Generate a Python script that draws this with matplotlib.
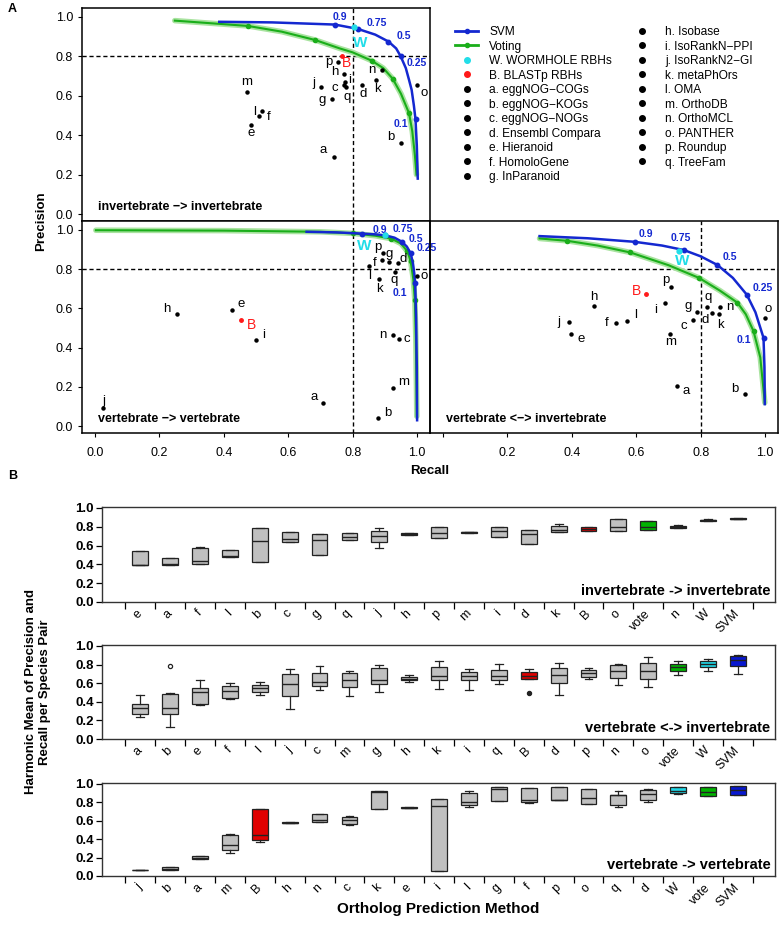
import matplotlib
matplotlib.use("Agg")
import matplotlib.pyplot as plt
from matplotlib.lines import Line2D
import numpy as np

plt.rcParams['font.family'] = ['Liberation Sans', 'DejaVu Sans']
NARROW = ['Liberation Sans Narrow', 'Liberation Sans', 'DejaVu Sans']

# ---------------- panel A data (recall, precision) ----------------
thr_labels = ['0.9', '0.75', '0.5', '0.25', '0.1']
letters = list('abcdefghijklmnopq')

# invertebrate -> invertebrate
ii_svm_r = [0.386, 0.55, 0.745, 0.816, 0.87, 0.911, 0.935, 0.949, 0.965, 0.975, 0.983, 0.99, 0.995, 0.999, 1.002]
ii_svm_p = [0.975, 0.972, 0.961, 0.939, 0.91, 0.875, 0.84, 0.80, 0.74, 0.68, 0.63, 0.55, 0.48, 0.35, 0.18]
ii_svm_thr_r = [0.745, 0.816, 0.911, 0.949, 0.995]
ii_svm_thr_p = [0.961, 0.939, 0.875, 0.80, 0.48]
ii_vote_r = [0.248, 0.475, 0.58, 0.683, 0.76, 0.80, 0.859, 0.895, 0.924, 0.95, 0.975, 0.985, 0.993, 0.998]
ii_vote_p = [0.981, 0.954, 0.925, 0.883, 0.84, 0.82, 0.778, 0.74, 0.687, 0.61, 0.511, 0.42, 0.30, 0.20]
ii_vote_thr_r = [0.475, 0.683, 0.859, 0.924, 0.975]
ii_vote_thr_p = [0.954, 0.883, 0.778, 0.687, 0.511]
ii_w = (0.805, 0.948)
ii_b = (0.766, 0.80)
ii_m_r = [0.742, 0.949, 0.772, 0.828, 0.484, 0.52, 0.735, 0.774, 0.775, 0.701, 0.873, 0.51, 0.473, 0.89, 1.0, 0.753, 0.78]
ii_m_p = [0.288, 0.362, 0.655, 0.655, 0.452, 0.523, 0.582, 0.71, 0.672, 0.643, 0.68, 0.497, 0.621, 0.731, 0.655, 0.773, 0.645]

# vertebrate -> vertebrate
vv_svm_r = [0.657, 0.75, 0.828, 0.87, 0.90, 0.93, 0.952, 0.968, 0.98, 0.987, 0.991, 0.994, 0.997, 0.999, 1.0]
vv_svm_p = [0.99, 0.987, 0.981, 0.977, 0.972, 0.96, 0.94, 0.915, 0.88, 0.83, 0.78, 0.728, 0.55, 0.30, 0.03]
vv_svm_thr_r = [0.828, 0.90, 0.952, 0.98, 0.994]
vv_svm_thr_p = [0.981, 0.972, 0.94, 0.88, 0.728]
vv_vote_r = [0.003, 0.4, 0.7, 0.80, 0.87, 0.92, 0.95, 0.97, 0.98, 0.988, 0.993, 0.996, 0.998, 0.999]
vv_vote_p = [0.998, 0.996, 0.99, 0.982, 0.97, 0.955, 0.93, 0.89, 0.84, 0.75, 0.64, 0.45, 0.20, 0.05]
vv_vote_thr_r = [0.80, 0.92, 0.97, 0.98, 0.993]
vv_vote_thr_p = [0.982, 0.955, 0.89, 0.84, 0.64]
vv_w = (0.90, 0.973)
vv_b = (0.453, 0.542)
vv_m_r = [0.707, 0.878, 0.944, 0.94, 0.426, 0.89, 0.913, 0.254, 0.5, 0.025, 0.883, 0.852, 0.926, 0.926, 1.0, 0.893, 0.932]
vv_m_p = [0.118, 0.039, 0.445, 0.83, 0.594, 0.846, 0.837, 0.572, 0.437, 0.09, 0.75, 0.817, 0.194, 0.465, 0.766, 0.882, 0.783]

# vertebrate <-> invertebrate
vi_svm_r = [0.30, 0.45, 0.595, 0.68, 0.748, 0.80, 0.852, 0.90, 0.943, 0.97, 0.995, 0.998, 0.999]
vi_svm_p = [0.968, 0.957, 0.939, 0.92, 0.897, 0.865, 0.821, 0.755, 0.67, 0.58, 0.45, 0.30, 0.112]
vi_svm_thr_r = [0.595, 0.748, 0.852, 0.943, 0.995]
vi_svm_thr_p = [0.939, 0.897, 0.821, 0.67, 0.45]
vi_vote_r = [0.30, 0.386, 0.48, 0.581, 0.70, 0.795, 0.86, 0.914, 0.94, 0.964, 0.985, 0.999]
vi_vote_p = [0.956, 0.944, 0.92, 0.885, 0.82, 0.755, 0.69, 0.629, 0.57, 0.484, 0.35, 0.12]
vi_vote_thr_r = [0.386, 0.581, 0.795, 0.914, 0.964]
vi_vote_thr_p = [0.944, 0.885, 0.755, 0.629, 0.484]
vi_w = (0.733, 0.893)
vi_b = (0.63, 0.673)
vi_m_r = [0.728, 0.937, 0.777, 0.836, 0.399, 0.538, 0.788, 0.469, 0.689, 0.391, 0.857, 0.572, 0.705, 0.86, 0.999, 0.709, 0.819]
vi_m_p = [0.205, 0.162, 0.542, 0.575, 0.467, 0.524, 0.58, 0.614, 0.628, 0.53, 0.569, 0.535, 0.47, 0.606, 0.552, 0.711, 0.606]

legend_names = ['SVM', 'Voting', 'W. WORMHOLE RBHs', 'B. BLASTp RBHs',
                'a. eggNOG\u2212COGs', 'b. eggNOG\u2212KOGs', 'c. eggNOG\u2212NOGs',
                'd. Ensembl Compara', 'e. Hieranoid', 'f. HomoloGene', 'g. InParanoid',
                'h. Isobase', 'i. IsoRankN\u2212PPI', 'j. IsoRankN2\u2212GI', 'k. metaPhOrs',
                'l. OMA', 'm. OrthoDB', 'n. OrthoMCL', 'o. PANTHER', 'p. Roundup', 'q. TreeFam']

# ---------------- panel B data (box statistics) ----------------
ii_names = ['e', 'a', 'f', 'l', 'b', 'c', 'g', 'q', 'j', 'h', 'p', 'm', 'i', 'd', 'k', 'B', 'o', 'vote', 'n', 'W', 'SVM']
ii_lo  = [.39, .39, .40, .48, .42, .64, .50, .66, .57, .71, .68, .735, .69, .62, .74, .76, .76, .77, .79, .86, .88]
ii_q1  = [.39, .39, .40, .48, .42, .64, .50, .66, .64, .71, .68, .735, .69, .62, .74, .76, .76, .77, .79, .86, .88]
ii_med = [.395, .40, .44, .49, .65, .67, .66, .69, .70, .72, .73, .74, .75, .72, .77, .78, .80, .80, .80, .87, .885]
ii_q3  = [.54, .47, .57, .55, .79, .74, .72, .73, .76, .73, .80, .745, .80, .77, .81, .80, .88, .86, .81, .875, .89]
ii_hi  = [.54, .47, .58, .55, .79, .74, .72, .73, .79, .73, .80, .745, .80, .77, .83, .80, .88, .86, .82, .88, .89]
ii_fliers = {}

vi_names = ['a', 'b', 'e', 'f', 'l', 'j', 'c', 'm', 'g', 'h', 'k', 'i', 'q', 'B', 'd', 'p', 'n', 'o', 'vote', 'W', 'SVM']
vi_lo  = [.24, .13, .36, .43, .47, .32, .53, .46, .51, .61, .54, .53, .59, .64, .47, .64, .58, .56, .69, .73, .70]
vi_q1  = [.27, .27, .38, .44, .50, .46, .57, .56, .59, .63, .63, .63, .63, .64, .60, .67, .66, .65, .73, .77, .78]
vi_med = [.33, .33, .51, .52, .55, .59, .61, .63, .63, .65, .68, .68, .68, .68, .69, .71, .73, .73, .77, .81, .85]
vi_q3  = [.38, .48, .55, .57, .58, .70, .71, .71, .76, .67, .77, .72, .74, .72, .76, .74, .79, .82, .81, .84, .89]
vi_hi  = [.47, .49, .63, .60, .61, .75, .78, .73, .80, .69, .84, .75, .81, .75, .82, .76, .81, .88, .84, .86, .90]
vi_fliers = {'b': [0.78], 'B': [0.49]}

vv_names = ['j', 'b', 'a', 'm', 'B', 'h', 'n', 'c', 'k', 'e', 'i', 'l', 'g', 'f', 'p', 'o', 'q', 'd', 'W', 'vote', 'SVM']
vv_lo  = [.06, .06, .18, .25, .37, .58, .59, .55, .73, .74, .05, .75, .81, .79, .82, .78, .75, .80, .89, .87, .88]
vv_q1  = [.06, .06, .18, .28, .39, .58, .59, .56, .73, .74, .05, .77, .81, .80, .82, .78, .77, .82, .90, .87, .88]
vv_med = [.065, .08, .20, .34, .44, .58, .61, .61, .91, .74, .76, .80, .95, .83, .83, .85, .88, .89, .92, .91, .93]
vv_q3  = [.07, .10, .22, .45, .73, .585, .67, .64, .92, .745, .84, .90, .97, .96, .97, .95, .88, .93, .97, .97, .98]
vv_hi  = [.07, .10, .22, .46, .73, .585, .67, .65, .92, .745, .84, .92, .97, .96, .97, .95, .92, .95, .97, .97, .98]
vv_fliers = {}

special_colors = {'B': '#e00000', 'vote': '#00b400', 'W': '#20d8e8', 'SVM': '#0818d0'}

BLUE = '#1428d0'
GREEN = '#1aae1a'
CYAN = '#22dde8'

fig = plt.figure(figsize=(7.8, 9.25), dpi=100)
W_PX, H_PX = 780.0, 925.0


def axes_px(left, top, right, bottom):
    return fig.add_axes([left / W_PX, 1 - bottom / H_PX, (right - left) / W_PX, (bottom - top) / H_PX])


def draw_pr(ax, svm_r, svm_p, svm_tr, svm_tp, vote_r, vote_p, vote_tr, vote_tp,
            w_pt, b_pt, m_r, m_p, offs, thr_offs, w_off, b_off, title):
    ax.set_xlim(-0.04, 1.04)
    ax.set_ylim(-0.035, 1.045)
    ax.axvline(0.8, color='k', ls=(0, (3, 2)), lw=1.0, zorder=1)
    ax.axhline(0.8, color='k', ls=(0, (3, 2)), lw=1.0, zorder=1)
    ax.plot(vote_r, vote_p, color='#a9e3a0', lw=4, solid_capstyle='round', zorder=2)
    ax.plot(vote_r, vote_p, color=GREEN, lw=1.5, zorder=3)
    ax.plot(vote_tr, vote_tp, 'o', color=GREEN, ms=3, zorder=3)
    ax.plot(svm_r, svm_p, color=BLUE, lw=1.8, zorder=4)
    ax.plot(svm_tr, svm_tp, 'o', color=BLUE, ms=3.2, zorder=4)
    for lab, x, y, off in zip(thr_labels, svm_tr, svm_tp, thr_offs):
        ax.annotate(lab, (x, y), xytext=off, textcoords='offset pixels', ha='center', va='center',
                    color=BLUE, fontsize=7.5, fontweight='bold', zorder=6)
    ax.plot(m_r, m_p, 'o', color='k', ms=2.2, zorder=5)
    for lab, x, y in zip(letters, m_r, m_p):
        ax.annotate(lab, (x, y), xytext=offs[lab], textcoords='offset pixels', ha='center', va='center',
                    fontsize=9.5, zorder=6)
    ax.plot([w_pt[0]], [w_pt[1]], 'o', color=CYAN, ms=3.5, zorder=6)
    ax.annotate('W', w_pt, xytext=w_off, textcoords='offset pixels', ha='center', va='center',
                color=CYAN, fontsize=11, fontweight='bold', zorder=6)
    ax.plot([b_pt[0]], [b_pt[1]], 'o', color='#ff1a1a', ms=2.5, zorder=6)
    ax.annotate('B', b_pt, xytext=b_off, textcoords='offset pixels', ha='center', va='center',
                color='#ff1a1a', fontsize=10, zorder=6)
    ax.text(0.01, 0.035, title, fontsize=9, fontweight='bold', ha='left', va='center')
    for s in ax.spines.values():
        s.set_linewidth(1.1)
    ax.tick_params(direction='out', length=3, labelsize=9, width=0.8)
    ax.tick_params(axis='x', pad=7)


ax_ii = axes_px(82, 8, 430, 221)
ax_vv = axes_px(82, 221, 430, 433)
ax_vi = axes_px(430, 221, 778, 433)
ax_vi.patch.set_alpha(0)

ii_offs = {'a': (-11, 7), 'b': (-10, 6), 'c': (-9, -3), 'd': (1, -9), 'e': (0, -8), 'f': (6, -6),
           'g': (-10, -1), 'h': (-9, 2), 'i': (5, 2), 'j': (-7, 4), 'k': (1, -9), 'l': (-5, 4),
           'm': (-1, 10), 'n': (-10, 0), 'o': (7, -8), 'p': (-9, 0), 'q': (1, -10)}
vv_offs = {'a': (-9, 6), 'b': (10, 5), 'c': (8, 0), 'd': (5, 4), 'e': (9, 6), 'f': (-7, -3),
           'g': (0, 8), 'h': (-10, 5), 'i': (8, 5), 'j': (1, 7), 'k': (0, -10), 'l': (0, -10),
           'm': (10, 6), 'n': (-10, 0), 'o': (7, 0), 'p': (-5, 6), 'q': (-1, -8)}
vi_offs = {'a': (9, -5), 'b': (-10, 5), 'c': (-9, -6), 'd': (-7, -7), 'e': (10, -5), 'f': (-10, 0),
           'g': (-9, 6), 'h': (0, 9), 'i': (-9, -7), 'j': (-10, 0), 'k': (1, -11), 'l': (8, 6),
           'm': (1, -8), 'n': (10, 0), 'o': (3, 9), 'p': (-6, 7), 'q': (1, 10)}

draw_pr(ax_ii, ii_svm_r, ii_svm_p, ii_svm_thr_r, ii_svm_thr_p, ii_vote_r, ii_vote_p,
        ii_vote_thr_r, ii_vote_thr_p, ii_w, ii_b, ii_m_r, ii_m_p, ii_offs,
        [(5, 8), (19, 6), (15, 6), (16, -7), (-15, -5)], (6, -16), (5, -7),
        'invertebrate \u2212> invertebrate')
draw_pr(ax_vv, vv_svm_r, vv_svm_p, vv_svm_thr_r, vv_svm_thr_p, vv_vote_r, vv_vote_p,
        vv_vote_thr_r, vv_vote_thr_p, vv_w, vv_b, vv_m_r, vv_m_p, vv_offs,
        [(18, 4), (18, 6), (14, 3), (16, 5), (-15, -10)], (-21, -11), (11, -5),
        'vertebrate \u2212> vertebrate')
draw_pr(ax_vi, vi_svm_r, vi_svm_p, vi_svm_thr_r, vi_svm_thr_p, vi_vote_r, vi_vote_p,
        vi_vote_thr_r, vi_vote_thr_p, vi_w, vi_b, vi_m_r, vi_m_p, vi_offs,
        [(11, 8), (-3, 12), (12, 8), (16, 7), (-20, -2)], (3, -10), (-9, 3),
        'vertebrate <\u2212> invertebrate')

ticks = np.arange(0, 1.01, 0.2)
for ax in (ax_ii, ax_vv):
    ax.set_yticks(ticks)
    ax.set_yticklabels(['%.1f' % t for t in ticks])
ax_ii.set_xticks([])
ax_vv.set_xticks(ticks)
ax_vv.set_xticklabels(['%.1f' % t for t in ticks])
ax_vi.set_yticks([])
ax_vi.set_xticks(ticks)
ax_vi.set_xticklabels([''] + ['%.1f' % t for t in ticks[1:]])

fig.text(41 / W_PX, 1 - 221 / H_PX, 'Precision', rotation=90, ha='center', va='center',
         fontsize=9.5, fontweight='bold')
fig.text(430 / W_PX, 1 - 471 / H_PX, 'Recall', ha='center', va='center', fontsize=9.5, fontweight='bold')
fig.text(8 / W_PX, 1 - 9 / H_PX, 'A', ha='left', va='center', fontsize=9, fontweight='bold')
fig.text(8 / W_PX, 1 - 476 / H_PX, 'B', ha='left', va='center', fontsize=9, fontweight='bold')

handles = [Line2D([], [], color=BLUE, lw=2, marker='o', ms=3),
           Line2D([], [], color=GREEN, lw=2, marker='o', ms=3),
           Line2D([], [], ls='', marker='o', color=CYAN, ms=4),
           Line2D([], [], ls='', marker='o', color='#ff1a1a', ms=4)]
handles += [Line2D([], [], ls='', marker='o', color='k', ms=4) for _ in letters]
fig.legend(handles, legend_names, loc='upper left', bbox_to_anchor=(455 / W_PX, 1 - 26 / H_PX),
           ncol=2, frameon=False, fontsize=8.6, handlelength=1.93, handletextpad=0.92,
           columnspacing=1.6, labelspacing=0.21, borderpad=0, borderaxespad=0)


# ---------------- panel B ----------------
def draw_boxes(ax, names, lo, q1, med, q3, hi, fliers, title):
    stats = [dict(label=n, whislo=a, q1=b, med=c, q3=d, whishi=e, fliers=fliers.get(n, []))
             for n, a, b, c, d, e in zip(names, lo, q1, med, q3, hi)]
    pos = np.arange(len(names))
    art = ax.bxp(stats, positions=pos, widths=0.53, capwidths=0.26, patch_artist=True,
                 boxprops=dict(facecolor='#c0c0c0', edgecolor='#222222', linewidth=0.9),
                 medianprops=dict(color='#222222', linewidth=1.0),
                 whiskerprops=dict(color='#222222', linewidth=0.9),
                 capprops=dict(color='#222222', linewidth=0.9),
                 flierprops=dict(marker='o', ms=3, mfc='none', mec='#222222', mew=0.9))
    for patch, n in zip(art['boxes'], names):
        if n in special_colors:
            patch.set_facecolor(special_colors[n])
    for fl, n in zip(art['fliers'], names):
        if n == 'B':
            fl.set_markerfacecolor('#222222')
    ax.set_xlim(-1.28, 21.24)
    ax.set_ylim(0, 1.01)
    ax.set_xticks(pos)
    ax.set_xticklabels(names, rotation=45, ha='right', va='center', rotation_mode='anchor', fontsize=9)
    ax.set_xticks(np.arange(-0.5, len(names)), minor=True)
    ax.tick_params(axis='x', which='major', length=0, pad=7)
    ax.tick_params(axis='x', which='minor', length=5, width=0.9, direction='out')
    ax.set_yticks(ticks)
    ax.set_yticklabels(['%.1f' % t for t in ticks], family=NARROW, fontweight='bold', fontsize=9.5)
    ax.tick_params(axis='y', length=4, width=0.9, direction='out', pad=2)
    for s in ax.spines.values():
        s.set_linewidth(1.0)
        s.set_color('#333333')
    ax.text(0.993, 0.04, title, transform=ax.transAxes, ha='right', va='bottom',
            family=NARROW, fontweight='bold', fontsize=10.5)


bx1 = axes_px(102, 507, 775, 602)
bx2 = axes_px(102, 645, 775, 739)
bx3 = axes_px(102, 783, 775, 876)
draw_boxes(bx1, ii_names, ii_lo, ii_q1, ii_med, ii_q3, ii_hi, ii_fliers, 'invertebrate -> invertebrate')
draw_boxes(bx2, vi_names, vi_lo, vi_q1, vi_med, vi_q3, vi_hi, vi_fliers, 'vertebrate <-> invertebrate')
draw_boxes(bx3, vv_names, vv_lo, vv_q1, vv_med, vv_q3, vv_hi, vv_fliers, 'vertebrate -> vertebrate')

fig.text(38 / W_PX, 1 - 692 / H_PX, 'Harmonic Mean of Precision and\nRecall per Species Pair',
         rotation=90, ha='center', va='center', fontsize=9.5, fontweight='bold', linespacing=1.15)
fig.text(438 / W_PX, 1 - 909 / H_PX, 'Ortholog Prediction Method', ha='center', va='center',
         family=NARROW, fontweight='bold', fontsize=11)

fig.savefig('out.png', dpi=100)
